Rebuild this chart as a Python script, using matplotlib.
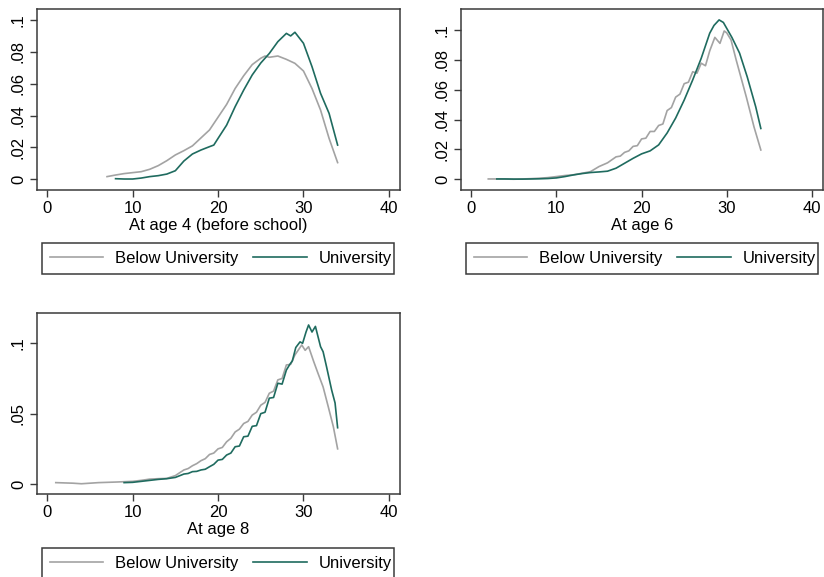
import numpy as np
import matplotlib.pyplot as plt
from matplotlib.lines import Line2D
from matplotlib.patches import Rectangle

plt.rcParams['font.family'] = ['Liberation Sans', 'DejaVu Sans']

GRAY = '#a3a3a3'
TEAL = '#1f6b5f'
EDGE = '#3a3a3a'

# Panel 1: at age 4 (before school)
x4_below = [7, 8, 9, 10, 11, 12, 13, 14, 15, 16, 17, 18, 19, 20, 21, 22, 23, 24, 25, 25.5,
            26, 27, 28, 29, 30, 31, 32, 33, 34]
y4_below = [0.0017, 0.0027, 0.0036, 0.0042, 0.0048, 0.0063, 0.0086, 0.0117, 0.0153, 0.018,
            0.021, 0.026, 0.031, 0.039, 0.047, 0.057, 0.065, 0.072, 0.076, 0.0774,
            0.0766, 0.0774, 0.0753, 0.0728, 0.068, 0.057, 0.0435, 0.0257, 0.0105]
x4_univ = [8, 9, 10, 11, 12, 13, 14, 15, 16, 17, 18, 19, 19.5, 20, 21, 22, 23, 24, 25,
           26, 27, 28, 28.5, 29, 30, 31, 32, 33, 34]
y4_univ = [0.0004, 0.0002, 0.0002, 0.0008, 0.0017, 0.0023, 0.0033, 0.0054, 0.0115, 0.0159,
           0.0184, 0.0205, 0.0215, 0.0257, 0.034, 0.0456, 0.056, 0.0655, 0.073,
           0.079, 0.0864, 0.0916, 0.090, 0.0923, 0.0854, 0.0707, 0.054, 0.0414, 0.0215]

# Panel 2: at age 6
x6_below = [2, 3, 4, 5, 6, 7, 8, 9, 10, 11, 12, 13, 14, 15, 16, 17, 17.5, 18, 18.5, 19, 19.5,
            20, 20.5, 21, 21.5, 22, 22.5, 23, 23.5, 24, 24.5, 25, 25.5, 26, 26.5, 27, 27.5,
            28, 28.6, 29.2, 29.7, 30, 30.5, 31.1, 32.3, 33.2, 34]
y6_below = [0.0002, 0.0002, 0.0001, 0.0, 0.0002, 0.0004, 0.0007, 0.0011, 0.0018, 0.0025,
            0.003, 0.004, 0.0051, 0.0085, 0.011, 0.015, 0.0155, 0.018, 0.019, 0.022, 0.0225,
            0.027, 0.0275, 0.032, 0.032, 0.036, 0.037, 0.046, 0.048, 0.055, 0.057, 0.064,
            0.065, 0.072, 0.071, 0.0777, 0.076, 0.086, 0.095, 0.091, 0.0993, 0.098, 0.0933,
            0.080, 0.055, 0.035, 0.0196]
x6_univ = [3, 4, 5, 6, 7, 8, 9, 10, 11, 12, 13, 14, 15, 16, 17, 18, 19, 20, 21, 22, 23, 24,
           25, 26, 27, 28, 28.5, 29.1, 29.6, 30.6, 31.5, 32.4, 33.4, 34]
y6_univ = [0.0002, 0.0002, 0.0001, 0.0001, 0.0002, 0.0003, 0.0005, 0.0009, 0.0018, 0.0029,
           0.0038, 0.0045, 0.0049, 0.0054, 0.0074, 0.0107, 0.014, 0.017, 0.019, 0.023, 0.031,
           0.041, 0.053, 0.0665, 0.081, 0.0978, 0.103, 0.1067, 0.105, 0.095, 0.0845, 0.0686,
           0.0485, 0.034]

# Panel 3: at age 8
x8_below = [1, 2, 3, 4, 6, 8, 10, 11, 12, 13, 14, 15, 16, 16.5, 17, 17.5, 18, 18.5, 19, 19.5,
            20, 20.5, 21, 21.5, 22, 22.5, 23, 23.5, 24, 24.5, 25, 25.5, 26, 26.5, 27, 27.5,
            28, 28.5, 29, 29.8, 30.2, 30.6, 31.2, 31.7, 32.3, 32.9, 33.5, 34]
y8_below = [0.001, 0.0008, 0.0006, 0.0002, 0.001, 0.0014, 0.0019, 0.0026, 0.0035, 0.0038,
            0.004, 0.006, 0.010, 0.011, 0.013, 0.0145, 0.0166, 0.018, 0.021, 0.022,
            0.025, 0.026, 0.030, 0.0325, 0.037, 0.039, 0.043, 0.0445, 0.049, 0.051,
            0.056, 0.058, 0.0645, 0.066, 0.074, 0.075, 0.0846, 0.085, 0.0917, 0.0988, 0.095,
            0.0976, 0.087, 0.0787, 0.069, 0.055, 0.0407, 0.025]
x8_univ = [9, 10, 11, 12, 13, 14, 15, 16, 16.5, 17, 17.5, 18, 18.5, 19, 19.5, 20, 20.5, 21,
           21.5, 22, 22.5, 23, 23.5, 24, 24.5, 25, 25.5, 26, 26.5, 27, 27.5, 28, 28.4, 28.7,
           29.1, 29.6, 29.9, 30.3, 30.6, 31.0, 31.4, 32.0, 32.3, 32.7, 33.3, 33.7, 34]
y8_univ = [0.001, 0.0012, 0.0019, 0.0026, 0.0033, 0.0038, 0.0047, 0.0071, 0.0075, 0.0088,
           0.009, 0.010, 0.0105, 0.0123, 0.014, 0.017, 0.0175, 0.0206, 0.022, 0.0265, 0.027,
           0.0336, 0.034, 0.041, 0.0415, 0.050, 0.051, 0.061, 0.0615, 0.0716, 0.071, 0.081,
           0.085, 0.0875, 0.097, 0.101, 0.100, 0.108, 0.113, 0.108, 0.112, 0.0976, 0.094,
           0.0834, 0.0668, 0.0576, 0.040]

panels = [
    dict(rect=[0.0449, 0.6707, 0.4405, 0.3137], ylim=(-0.0067, 0.1069),
         yticks=[0, 0.02, 0.04, 0.06, 0.08, 0.1], ylabels=['0', '.02', '.04', '.06', '.08', '.1'],
         xlabel='At age 4 (before school)', below=(x4_below, y4_below), univ=(x4_univ, y4_univ),
         box=(42, 243)),
    dict(rect=[0.5595, 0.6707, 0.4393, 0.3137], ylim=(-0.0072, 0.114),
         yticks=[0, 0.02, 0.04, 0.06, 0.08, 0.1], ylabels=['0', '.02', '.04', '.06', '.08', '.1'],
         xlabel='At age 6', below=(x6_below, y6_below), univ=(x6_univ, y6_univ),
         box=(466, 243)),
    dict(rect=[0.0449, 0.1438, 0.4405, 0.3137], ylim=(-0.0071, 0.1215),
         yticks=[0, 0.05, 0.1], ylabels=['0', '.05', '.1'],
         xlabel='At age 8', below=(x8_below, y8_below), univ=(x8_univ, y8_univ),
         box=(42, 548)),
]

W, H = 824, 577
fig = plt.figure(figsize=(W / 100, H / 100), dpi=100)

for p in panels:
    ax = fig.add_axes(p['rect'])
    ax.plot(*p['below'], color=GRAY, lw=1.2)
    ax.plot(*p['univ'], color=TEAL, lw=1.2)
    ax.set_xlim(-1.2, 41.3)
    ax.set_ylim(*p['ylim'])
    ax.set_xticks([0, 10, 20, 30, 40])
    ax.set_yticks(p['yticks'])
    ax.set_yticklabels(p['ylabels'], rotation=90, va='center')
    ax.tick_params(direction='out', length=5, width=1, colors=EDGE, labelcolor='black',
                   labelsize=12, pad=3)
    ax.set_xlabel(p['xlabel'], fontsize=12, labelpad=1)
    for s in ax.spines.values():
        s.set_color(EDGE)
        s.set_linewidth(1.1)

    # legend frame drawn separately, legend content placed inside it
    bx, by = p['box']
    bw, bh = 352, 31
    fig.patches.append(Rectangle((bx / W, 1 - (by + bh) / H), bw / W, bh / H,
                                 transform=fig.transFigure, fill=False,
                                 edgecolor=EDGE, lw=1.1))
    handles = [Line2D([], [], color=GRAY, lw=1.2), Line2D([], [], color=TEAL, lw=1.2)]
    fig.legend(handles, ['Below University', 'University'], loc='center left',
               bbox_to_anchor=((bx + 8) / W, 1 - (by + bh) / H, (bw - 10) / W, bh / H),
               mode='expand', ncol=2, borderaxespad=0, borderpad=0, frameon=False,
               fontsize=12, handlelength=3.2, handletextpad=0.72, columnspacing=1.0)

fig.savefig('out.png', dpi=100)
